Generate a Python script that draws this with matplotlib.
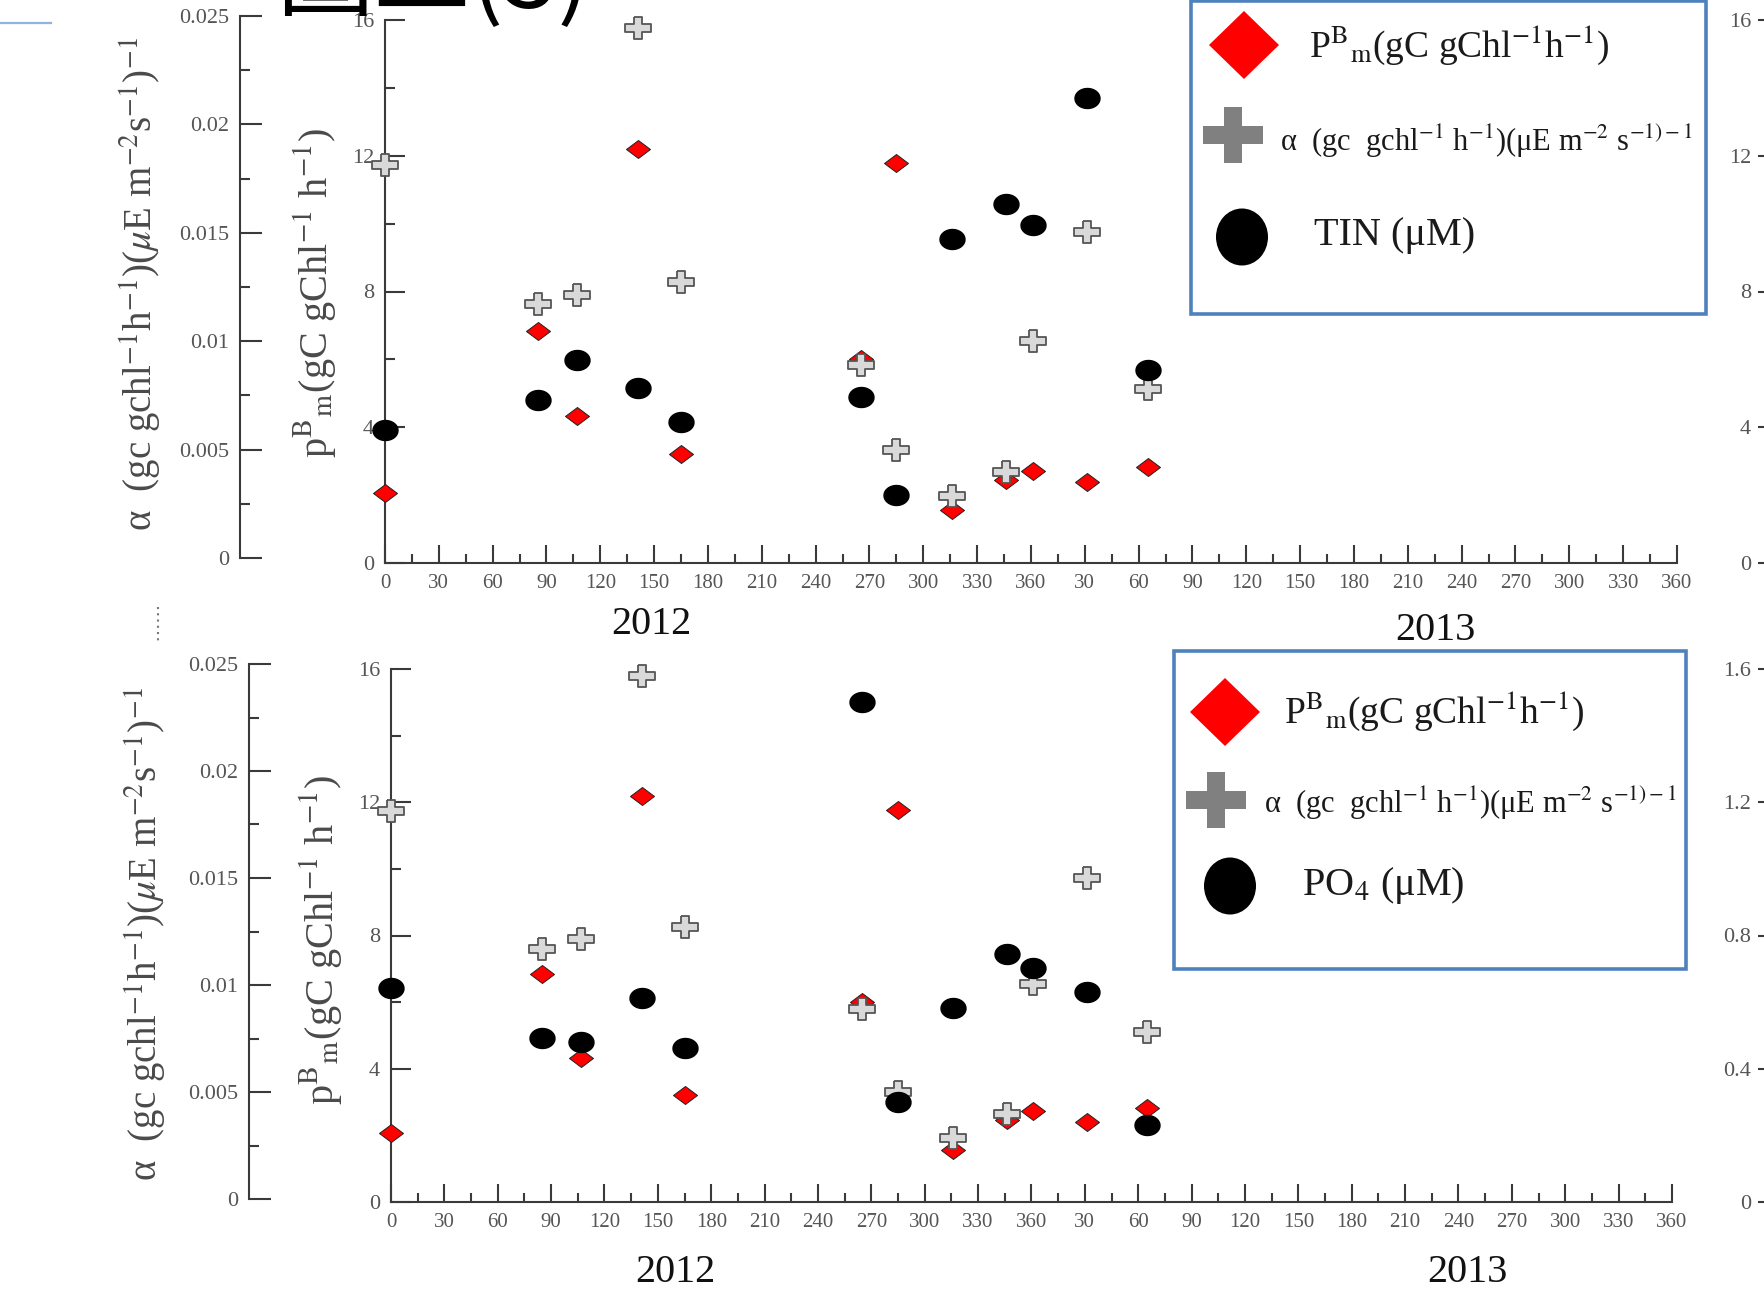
import numpy as np
import matplotlib
matplotlib.use("Agg")
import matplotlib.pyplot as plt
from matplotlib.path import Path
from matplotlib.patches import Rectangle, Polygon, Ellipse
from matplotlib.ticker import FixedLocator, FixedFormatter

plt.rcParams['font.family'] = ['Liberation Serif', 'Noto Sans CJK TC', 'DejaVu Sans']
plt.rcParams['mathtext.fontset'] = 'stix'

# sampling day (continuous day count from 1 Jan 2012)
days = [0, 85, 107, 141, 165, 265, 285, 316, 346, 361, 391, 425]
# P^B_m (gC gChl-1 h-1)
pbm = [2.06, 6.84, 4.32, 12.2, 3.22, 6.0, 11.78, 1.56, 2.46, 2.72, 2.39, 2.82]
# alpha (gC gChl-1 h-1)(uE m-2 s-1)-1
alpha = [0.01815, 0.0117, 0.01215, 0.02443, 0.01272, 0.0089, 0.0050,
         0.00285, 0.00395, 0.01003, 0.01502, 0.0078]
# nutrients (uM)
tin = [3.92, 4.81, 5.98, 5.15, 4.15, 4.88, 1.99, 9.56, 10.59, 9.96, 13.71, 5.68]
po4 = [0.641, 0.493, 0.479, 0.611, 0.462, 1.502, 0.300, 0.581, 0.743,
       0.702, 0.631, 0.230]

xtick_vals = list(range(0, 721, 30))
xtick_labels = [str(v) for v in range(0, 361, 30)] + [str(v) for v in range(30, 361, 30)]
alpha_ticks = [0, 0.005, 0.01, 0.015, 0.02, 0.025]
alpha_labels = ['0', '0.005', '0.01', '0.015', '0.02', '0.025']
pbm_ticks = [0, 4, 8, 12, 16]
tin_ticks = [0, 4, 8, 12, 16]
po4_ticks = [0, 0.4, 0.8, 1.2, 1.6]
po4_labels = ['0', '0.4', '0.8', '1.2', '1.6']

W, H = 1765, 1308
PX = 0.72  # points per pixel at dpi 100

AXC = '#3a3a3a'
TKC = '#555555'


def fbox(x0, y0, x1, y1):
    return [x0 / W, 1 - y1 / H, (x1 - x0) / W, (y1 - y0) / H]


# marker shapes
diamond = Path([(0, 0.75), (1, 0), (0, -0.75), (-1, 0), (0, 0.75)],
               [1, 2, 2, 2, 79])
t = np.linspace(0, 2 * np.pi, 60)
oval = Path(np.column_stack([np.cos(t), 0.8 * np.sin(t)]))
a, b = 0.32, 1.0
cross_xy = [(-a, b), (a, b), (a, a), (b, a), (b, -a), (a, -a), (a, -b),
            (-a, -b), (-a, -a), (-b, -a), (-b, a), (-a, a), (-a, b)]
cross = Path([(x, 0.85 * y) for x, y in cross_xy])

fig = plt.figure(figsize=(W / 100, H / 100), dpi=100)


def panel(main, alpha_box, nut, nut_ticks, nut_labels, nut_max):
    x0, y0, x1, y1 = main
    ax = fig.add_axes(fbox(x0, y0, x1, y1))
    ax.set_xlim(0, 720)
    ax.set_ylim(0, 16)
    for s in ['top', 'right']:
        ax.spines[s].set_visible(False)
    for s in ['left', 'bottom']:
        ax.spines[s].set_color(AXC)
        ax.spines[s].set_linewidth(1.5)
    ax.xaxis.set_major_locator(FixedLocator(xtick_vals))
    ax.xaxis.set_major_formatter(FixedFormatter(xtick_labels))
    ax.xaxis.set_minor_locator(FixedLocator(list(range(15, 720, 30))))
    ax.yaxis.set_major_locator(FixedLocator(pbm_ticks))
    ax.yaxis.set_minor_locator(FixedLocator([2, 6, 10, 14]))
    ax.tick_params(axis='x', which='major', direction='in', length=18 * PX,
                   width=1.5, color=AXC, labelsize=15, labelcolor=TKC, pad=8)
    ax.tick_params(axis='x', which='minor', direction='in', length=9 * PX,
                   width=1.5, color=AXC)
    ax.tick_params(axis='y', which='major', direction='in', length=20 * PX,
                   width=1.5, color=AXC, labelsize=16, labelcolor=TKC, pad=8)
    ax.tick_params(axis='y', which='minor', direction='in', length=10 * PX,
                   width=1.5, color=AXC)
    ax.plot(days, pbm, linestyle='none', marker=diamond, ms=24 * PX,
            mfc='#ff0000', mec='#222222', mew=0.7, clip_on=False, zorder=3)

    # alpha axis, drawn further left
    xa, ya0, ya1 = alpha_box
    axa = fig.add_axes(fbox(x0, ya0, x1, ya1))
    axa.patch.set_visible(False)
    axa.set_xlim(0, 720)
    axa.set_ylim(0, 0.025)
    for s in ['top', 'right', 'bottom']:
        axa.spines[s].set_visible(False)
    axa.spines['left'].set_position(('outward', (x0 - xa) * PX))
    axa.spines['left'].set_color(AXC)
    axa.spines['left'].set_linewidth(1.5)
    axa.xaxis.set_visible(False)
    axa.yaxis.set_major_locator(FixedLocator(alpha_ticks))
    axa.yaxis.set_major_formatter(FixedFormatter(alpha_labels))
    axa.yaxis.set_minor_locator(FixedLocator([0.0025, 0.0075, 0.0125, 0.0175, 0.0225]))
    axa.tick_params(axis='y', which='major', direction='in', length=22 * PX,
                    width=1.5, color=AXC, labelsize=16, labelcolor=TKC, pad=8)
    axa.tick_params(axis='y', which='minor', direction='in', length=10 * PX,
                    width=1.5, color=AXC)
    axa.plot(days, alpha, linestyle='none', marker=cross, ms=26 * PX,
             mfc='#d9d9d9', mec='#555555', mew=1.3, clip_on=False, zorder=4)

    # nutrient axis on the far right
    axr = fig.add_axes(fbox(x0, y0, x1, y1))
    axr.patch.set_visible(False)
    axr.set_xlim(0, 720)
    axr.set_ylim(0, nut_max)
    for s in ['top', 'right', 'bottom', 'left']:
        axr.spines[s].set_visible(False)
    axr.spines['left'].set_position(('axes', (1778 - x0) / (x1 - x0)))
    axr.xaxis.set_visible(False)
    axr.yaxis.set_major_locator(FixedLocator(nut_ticks))
    axr.yaxis.set_major_formatter(FixedFormatter(nut_labels))
    axr.tick_params(axis='y', which='major', direction='out', length=20 * PX,
                    width=1.5, color=AXC, labelsize=16, labelcolor=TKC, pad=5)
    axr.plot(days, nut, linestyle='none', marker=oval, ms=25 * PX,
             mfc='black', mec='black', clip_on=False, zorder=5)
    return ax


panel((385, 20, 1677, 563), (240, 16, 558), tin, tin_ticks,
      [str(v) for v in tin_ticks], 16)
panel((391, 669, 1672, 1202), (249, 664, 1199), po4, po4_ticks,
      po4_labels, 1.6)

# overlay in pixel coordinates for labels and legend boxes
ov = fig.add_axes([0, 0, 1, 1])
ov.set_xlim(0, W)
ov.set_ylim(H, 0)
ov.axis('off')
ov.patch.set_visible(False)

alpha_lab = (r"α  (gc gchl$^{\mathrm{-1}}$h$^{\mathrm{-1}}$)($\mu$E m$^{\mathrm{-2}}$"
             r"s$^{\mathrm{-1}}$)$^{\mathrm{-1}}$")
pbm_lab = r"p$^{\mathrm{B}}$$_{\mathrm{m}}$(gC gChl$^{\mathrm{-1}}$ h$^{\mathrm{-1}}$)"
for (xa, ya), (xp, yp) in [((141, 284), (315, 293)), ((146, 934), (321, 940))]:
    ov.text(xa, ya, alpha_lab, rotation=90, ha='center', va='center',
            fontsize=28, color='#4a4a4a')
    ov.text(xp, yp, pbm_lab, rotation=90, ha='center', va='center',
            fontsize=29, color='#4a4a4a')

for x, y, s in [(651, 625, '2012'), (1435, 630, '2013'),
                (675, 1272, '2012'), (1467, 1272, '2013')]:
    ov.text(x, y, s, ha='center', va='center', fontsize=29, color='#111111')

ov.text(276, 8, '圖二(3)', ha='left', va='baseline', fontsize=70,
        family=['Noto Sans CJK TC', 'DejaVu Sans'], color='black')

ov.plot([0, 51], [23, 23], color='#8eb4e3', lw=1.6)
ov.plot([158, 158], [607, 643], color='#777777', lw=1.5, linestyle=(0, (1, 2)))


def legend_box(box, rows, nut_name):
    x0, y0, x1, y1 = box
    ov.add_patch(Rectangle((x0, y0), x1 - x0, y1 - y0, facecolor='white',
                           edgecolor='#4f81bd', lw=2.6, zorder=6))
    (dx, dy), (px, py), (cx, cy) = rows[0]
    ov.add_patch(Polygon([(dx, dy - 34), (dx + 35, dy), (dx, dy + 34), (dx - 35, dy)],
                         closed=True, facecolor='#ff0000', edgecolor='none', zorder=7))
    arm = 9
    w, h = 30, 28
    ov.add_patch(Polygon([(px - arm, py - h), (px + arm, py - h), (px + arm, py - arm),
                          (px + w, py - arm), (px + w, py + arm), (px + arm, py + arm),
                          (px + arm, py + h), (px - arm, py + h), (px - arm, py + arm),
                          (px - w, py + arm), (px - w, py - arm), (px - arm, py - arm)],
                         closed=True, facecolor='#808080', edgecolor='none', zorder=7))
    ov.add_patch(Ellipse((cx, cy), 52, 57, facecolor='black', edgecolor='none', zorder=7))
    (t1x, t1y), (t2x, t2y), (t3x, t3y) = rows[1]
    ov.text(t1x, t1y, r"P$^{\mathrm{B}}$$_{\mathrm{m}}$(gC gChl$^{\mathrm{-1}}$h$^{\mathrm{-1}}$)",
            ha='left', va='center', fontsize=27, color='#1a1a1a', zorder=8)
    ov.text(t2x, t2y, r"α  (gc  gchl$^{\mathrm{-1}}$ h$^{\mathrm{-1}}$)(μE m$^{\mathrm{-2}}$ "
                      r"s$^{\mathrm{-1)-1}}$",
            ha='left', va='center', fontsize=22, color='#1a1a1a', zorder=8)
    ov.text(t3x, t3y, nut_name, ha='left', va='center', fontsize=29,
            color='#1a1a1a', zorder=8)


legend_box((1191, 1, 1706, 314),
           [[(1244, 45), (1233, 135), (1242, 237)],
            [(1309, 45), (1280, 141), (1314, 236)]],
           'TIN (μM)')
legend_box((1174, 651, 1686, 969),
           [[(1225, 712), (1216, 800), (1230, 886)],
            [(1284, 711), (1264, 803), (1302, 886)]],
           r'PO$_{\mathrm{4}}$ (μM)')

fig.savefig('out.png', dpi=100)
